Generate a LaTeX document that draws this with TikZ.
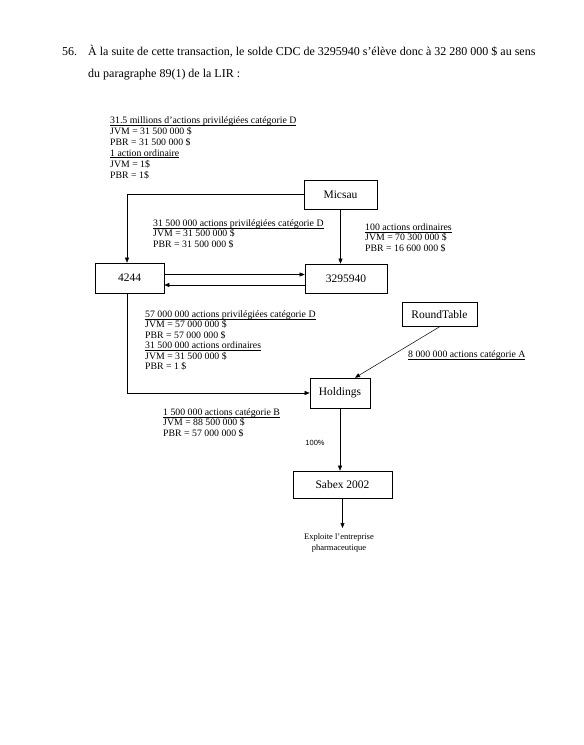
\documentclass[tikz,border=0pt]{standalone}
\usepackage{fontspec}
\setmainfont{Liberation Serif}
\setsansfont{Liberation Sans}
\usetikzlibrary{arrows.meta}
\usepackage{xcolor}
\newcommand{\souligne}[1]{\setbox0\hbox{#1}\rlap{\rule[-1.7pt]{\wd0}{0.45pt}}\box0}

\tikzset{
  boite/.style={draw, line width=0.6pt, minimum height=29pt, inner sep=0pt, font=\fontsize{11.5}{13}\selectfont},
  note/.style={anchor=north west, inner sep=0pt, align=left, font=\fontsize{9.8}{10.4}\selectfont},
  fleche/.style={-{Triangle[length=5pt,width=4pt]}, line width=0.5pt},
  entete/.style={anchor=base west, inner sep=0pt, font=\fontsize{12}{14}\selectfont},
}

\begin{document}
\begin{tikzpicture}[x=1pt,y=-1pt]
                \useasboundingbox (0,0) rectangle (584,745);

                % paragraphe
                \node[entete] (num) at (62,55) {56.};
                \node[entete] (intro1) at (88,55) {À la suite de cette transaction, le solde CDC de 3295940 s’élève donc à 32 280 000 \$ au sens};
                \node[entete] (intro2) at (88,77) {du paragraphe 89(1) de la LIR :};

                % societes
                \node[boite, minimum width=73pt] (micsau) at (340.5,194.5) {Micsau};
                \node[boite, minimum width=69pt, minimum height=30pt] (n4244) at (129.5,278) {4244};
                \node[boite, minimum width=82pt] (cdc) at (346,278.5) {3295940};
                \node[boite, minimum width=75pt, minimum height=24pt] (roundtable) at (439.5,314.5) {RoundTable};
                \node[boite, minimum width=60pt, minimum height=30pt] (holdings) at (340,393) {Holdings};
                \node[boite, minimum width=99pt, minimum height=27pt] (sabex) at (342.5,484.5) {Sabex 2002};

                % actions
                \node[note, font=\fontsize{9.8}{10.9}\selectfont] (actmicsau) at (110,116.5) {\souligne{31.5 millions d’actions privilégiées catégorie D}\\JVM = 31 500 000 \$\\PBR = 31 500 000 \$\\\souligne{1 action ordinaire}\\JVM = 1\$\\PBR = 1\$};
                \node[note] (actcdc) at (153,219.5) {\souligne{31 500 000 actions privilégiées catégorie D}\\JVM = 31 500 000 \$\\PBR = 31 500 000 \$};
                \node[note] (actord) at (365,223.5) {\souligne{100 actions ordinaires}\\JVM = 70 300 000 \$\\PBR = 16 600 000 \$};
                \node[note] (actholdings) at (145,310.5) {\souligne{57 000 000 actions privilégiées catégorie D}\\JVM = 57 000 000 \$\\PBR = 57 000 000 \$\\\souligne{31 500 000 actions ordinaires}\\JVM = 31 500 000 \$\\PBR = 1 \$};
                \node[note] (actrt) at (408,350.5) {\souligne{8 000 000 actions catégorie A}};
                \node[note] (actb) at (163,408.5) {\souligne{1 500 000 actions catégorie B}\\JVM = 88 500 000 \$\\PBR = 57 000 000 \$};
                \node[font=\sffamily\fontsize{7.5}{9}\selectfont, inner sep=0pt] (pct) at (315,443) {100\%};
                \node[anchor=north, inner sep=0pt, align=center, font=\fontsize{8.5}{11}\selectfont] (activite) at (339,533) {Exploite l’entreprise\\pharmaceutique};
                \coordinate (finsabex) at (342.5,528);

                % liens
                \draw[fleche] (micsau.west) -| ([xshift=-2.5pt]n4244.north);
                \draw[fleche] (micsau.south) -- (micsau.south |- cdc.north);
                \draw[fleche] ([yshift=3.5pt]n4244.east) -- ([yshift=3.5pt]n4244.east -| cdc.west);
                \draw[fleche] ([yshift=-6.5pt]cdc.west) -- ([yshift=-6.5pt]cdc.west -| n4244.east);
                \draw[fleche] ([xshift=-2.5pt]n4244.south) |- (holdings.west);
                \draw[fleche] (roundtable.south) -- ([xshift=15pt]holdings.north);
                \draw[fleche] (holdings.south) -- (holdings.south |- sabex.north);
                \draw[fleche] (sabex.south) -- (finsabex);
            \end{tikzpicture}
\end{document}
